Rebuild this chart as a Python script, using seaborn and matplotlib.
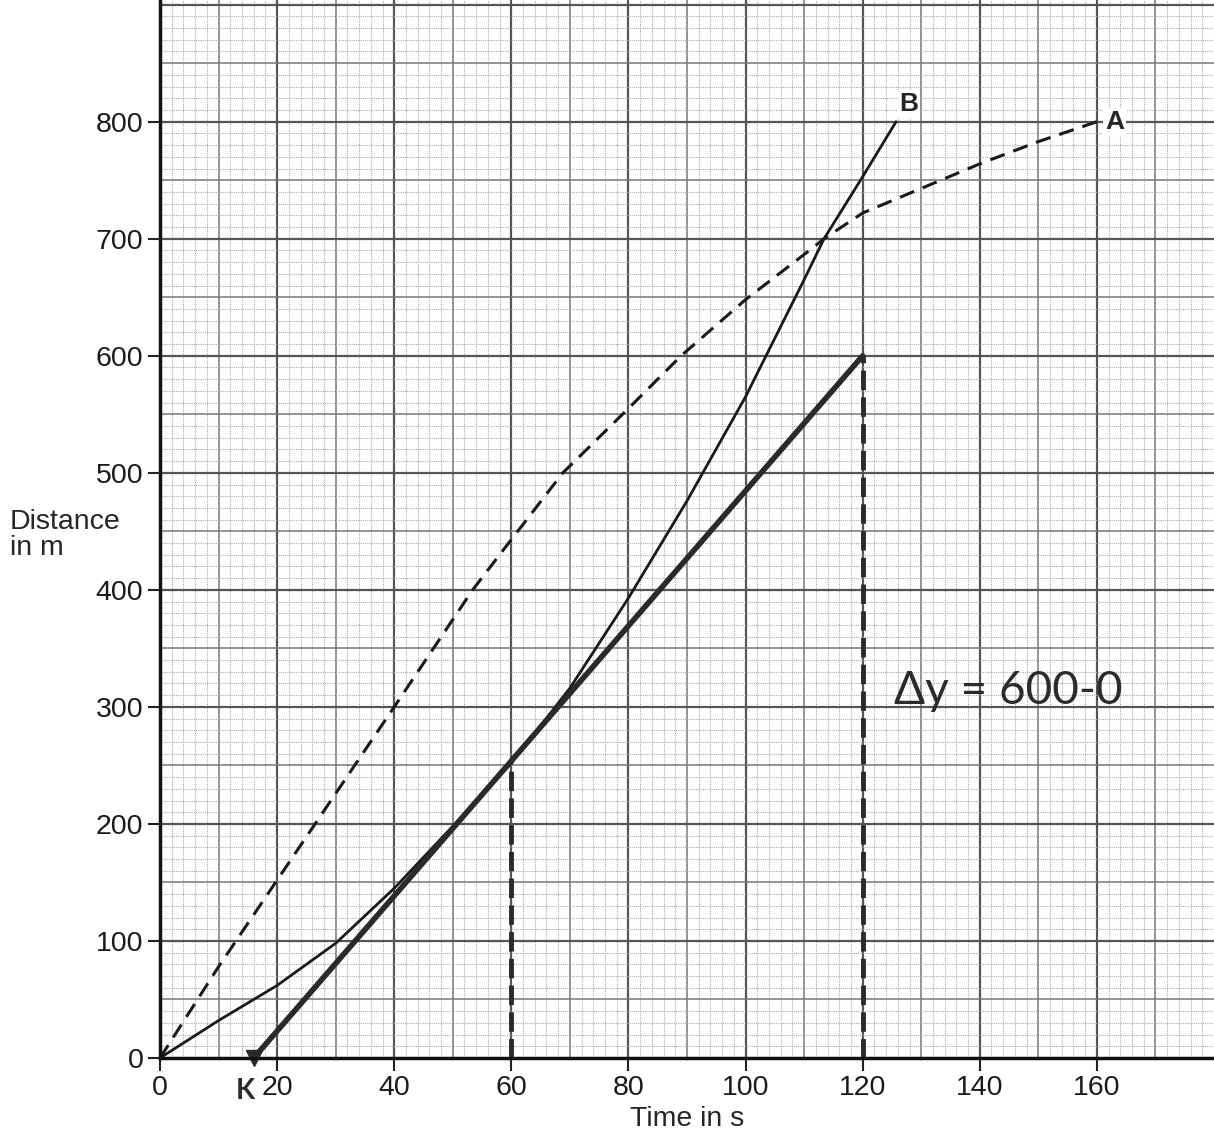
import numpy as np
import pandas as pd
import matplotlib
matplotlib.use("Agg")
import matplotlib.pyplot as plt
import seaborn as sns
from matplotlib.ticker import MultipleLocator

# ---- data ----
a_time = [0, 10, 20, 30, 40, 53.4, 60, 68.8, 80, 89, 100, 110.9, 113.4, 120, 130, 140, 150, 160]
a_dist = [0, 78, 152, 226, 300, 400, 443, 500, 555, 600, 648, 690, 700, 722, 743, 764, 783, 800]

b_time = [0, 10, 20, 30, 40, 50, 60, 70, 80, 90, 100, 110, 113.4, 120, 125.7]
b_dist = [0, 32, 62, 98, 145, 198, 252, 316, 393, 476, 565, 665, 700, 753, 800]

tangent_time = [16, 120]
tangent_dist = [0, 600]

guide60_time = [60, 60]
guide60_dist = [0, 252]
guide120_time = [120, 120]
guide120_dist = [0, 600]

x_ticks = [0, 20, 40, 60, 80, 100, 120, 140, 160]
y_ticks = [0, 100, 200, 300, 400, 500, 600, 700, 800]

sns.set_theme(style="white")
plt.rcParams['font.family'] = ['Liberation Sans', 'DejaVu Sans']

fig = plt.figure(figsize=(12.14, 11.41), dpi=100)
ax = fig.add_axes([160/1214, 1 - 1058/1141, 1 - 160/1214, 1058/1141])

ax.set_xlim(0, 180)
ax.set_ylim(0, 904)

# graph paper grid
for xv in np.arange(2, 180, 2):
    if xv % 20 == 0:
        ax.axvline(xv, color="#555555", lw=1.6, zorder=1)
    elif xv % 10 == 0:
        ax.axvline(xv, color="#777777", lw=1.1, zorder=1)
    else:
        ax.axvline(xv, color="#ababab", lw=0.8, ls=(0, (1, 1)), zorder=1)
for yv in np.arange(10, 904, 10):
    if yv % 100 == 0:
        ax.axhline(yv, color="#555555", lw=1.6, zorder=1)
    elif yv % 50 == 0:
        ax.axhline(yv, color="#777777", lw=1.1, zorder=1)
    else:
        ax.axhline(yv, color="#ababab", lw=0.8, ls=(0, (1, 1)), zorder=1)

dfA = pd.DataFrame({"t": a_time, "d": a_dist})
dfB = pd.DataFrame({"t": b_time, "d": b_dist})
sns.lineplot(data=dfA, x="t", y="d", ax=ax, color="#1a1a1a", lw=2.2,
             linestyle=(0, (5, 3)), zorder=4, sort=False, estimator=None)
sns.lineplot(data=dfB, x="t", y="d", ax=ax, color="#1a1a1a", lw=2.0,
             zorder=4, sort=False, estimator=None)
sns.lineplot(x=tangent_time, y=tangent_dist, ax=ax, color="#2a2a2a", lw=4,
             zorder=5, sort=False, estimator=None)
sns.lineplot(x=guide60_time, y=guide60_dist, ax=ax, color="#2a2a2a", lw=3.5,
             linestyle=(0, (4, 1.5)), zorder=5, sort=False, estimator=None)
sns.lineplot(x=guide120_time, y=guide120_dist, ax=ax, color="#2a2a2a", lw=3.5,
             linestyle=(0, (4, 1.5)), zorder=5, sort=False, estimator=None)
ax.plot([tangent_time[0]], [tangent_dist[0]], marker="v", ms=11, color="#2a2a2a",
        zorder=6, clip_on=False)

# labels on curves
ax.text(127.8, 815, "B", fontsize=19, fontweight="bold", ha="center", va="center",
        zorder=7, bbox=dict(facecolor="white", edgecolor="none", pad=1.5))
ax.text(163, 800, "A", fontsize=19, fontweight="bold", ha="center", va="center",
        zorder=7, bbox=dict(facecolor="white", edgecolor="none", pad=1.5))

# handwritten notes
ax.text(125.3, 314, "\u0394y = 600-0", fontsize=33, color="#2b2b2b",
        family=["Lato", "DejaVu Sans"], va="center", ha="left", zorder=7)
ax.text(14.5, -28, "K", fontsize=20, fontweight="bold", color="#2b2b2b",
        family=["Lato", "DejaVu Sans"], ha="center", va="center", zorder=7)

ax.set_xticks(x_ticks)
ax.set_yticks(y_ticks)
ax.set_xticklabels([str(v) for v in x_ticks])
ax.set_yticklabels([str(v) for v in y_ticks])
ax.tick_params(axis="both", which="major", direction="out", length=9, width=1.5,
               labelsize=20.5, color="#222222", labelcolor="#1a1a1a", pad=3,
               bottom=True, left=True)
ax.tick_params(axis="both", which="minor", length=0)

for side in ["top", "right"]:
    ax.spines[side].set_visible(False)
for side in ["left", "bottom"]:
    ax.spines[side].set_linewidth(2.5)
    ax.spines[side].set_color("#111111")
    ax.spines[side].set_zorder(8)

ax.set_xlabel("Time in s", fontsize=20.5, labelpad=4)
ax.set_ylabel("")
fig.text(10/1214, 1 - 535/1141, "Distance\nin m", fontsize=20.5, ha="left", va="center",
         linespacing=1.0)

fig.savefig("out.png", dpi=100, facecolor="white")
